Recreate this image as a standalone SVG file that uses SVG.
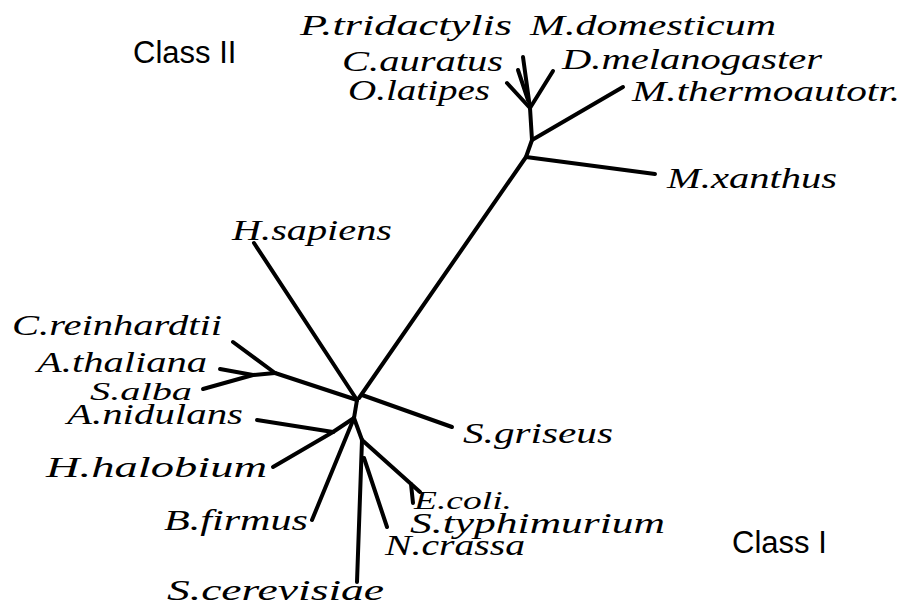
<svg xmlns="http://www.w3.org/2000/svg" width="903" height="611" viewBox="0 0 903 611">
<style>
.lbl{font-family:"Liberation Serif","DejaVu Serif",serif;font-style:italic;font-size:29px;fill:#000}
.sm{font-size:26px}
.cls{font-family:"Liberation Sans",Arial,sans-serif;font-size:31px;fill:#000}
.br{fill:none;stroke:#000;stroke-width:4;stroke-linecap:round;stroke-linejoin:round}
</style>
<rect width="903" height="611" fill="#fff"/>
<g id="connectors">
<polyline class="br" points="359,398 526,157 532,140 530,108"/>
<line class="br" x1="526" y1="157" x2="655" y2="174"/>
<line class="br" x1="532" y1="140" x2="623" y2="87"/>
<line class="br" x1="530" y1="108" x2="523" y2="57"/>
<line class="br" x1="528" y1="100" x2="518" y2="70"/>
<line class="br" x1="530" y1="108" x2="507" y2="83"/>
<line class="br" x1="530" y1="108" x2="553" y2="71"/>
<line class="br" x1="357" y1="400" x2="254" y2="243"/>
<line class="br" x1="362" y1="395" x2="452" y2="427"/>
<line class="br" x1="357" y1="400" x2="275" y2="373"/>
<line class="br" x1="275" y1="373" x2="233" y2="342"/>
<line class="br" x1="275" y1="373" x2="253" y2="375"/>
<line class="br" x1="253" y1="375" x2="220" y2="369"/>
<line class="br" x1="253" y1="375" x2="203" y2="389"/>
<line class="br" x1="357" y1="400" x2="354" y2="418"/>
<line class="br" x1="354" y1="418" x2="333" y2="432"/>
<line class="br" x1="333" y1="432" x2="257" y2="420"/>
<line class="br" x1="333" y1="432" x2="273" y2="467"/>
<line class="br" x1="354" y1="418" x2="312" y2="520"/>
<line class="br" x1="354" y1="418" x2="362" y2="440"/>
<line class="br" x1="362" y1="440" x2="420" y2="492"/>
<line class="br" x1="411" y1="484" x2="413" y2="503"/>
<line class="br" x1="362" y1="440" x2="357" y2="582"/>
<line class="br" x1="364" y1="458" x2="387" y2="527"/>
</g>
<g id="P_tridactylis"><text class="lbl" x="300" y="35" textLength="212" lengthAdjust="spacingAndGlyphs">P.tridactylis</text></g>
<g id="M_domesticum"><text class="lbl" x="530" y="35" textLength="246" lengthAdjust="spacingAndGlyphs">M.domesticum</text></g>
<g id="C_auratus"><text class="lbl" x="342" y="71" textLength="161" lengthAdjust="spacingAndGlyphs">C.auratus</text></g>
<g id="D_melanogaster"><text class="lbl" x="562" y="69" textLength="260" lengthAdjust="spacingAndGlyphs">D.melanogaster</text></g>
<g id="O_latipes"><text class="lbl" x="348" y="100" textLength="142" lengthAdjust="spacingAndGlyphs">O.latipes</text></g>
<g id="M_thermoautotr"><text class="lbl" x="632" y="101" textLength="268" lengthAdjust="spacingAndGlyphs">M.thermoautotr.</text></g>
<g id="M_xanthus"><text class="lbl" x="667" y="188" textLength="170" lengthAdjust="spacingAndGlyphs">M.xanthus</text></g>
<g id="H_sapiens"><text class="lbl" x="232" y="240" textLength="160" lengthAdjust="spacingAndGlyphs">H.sapiens</text></g>
<g id="C_reinhardtii"><text class="lbl" x="12" y="335" textLength="210" lengthAdjust="spacingAndGlyphs">C.reinhardtii</text></g>
<g id="A_thaliana"><text class="lbl" x="37" y="372" textLength="170" lengthAdjust="spacingAndGlyphs">A.thaliana</text></g>
<g id="S_alba"><text class="lbl sm" x="90" y="400" textLength="102" lengthAdjust="spacingAndGlyphs">S.alba</text></g>
<g id="A_nidulans"><text class="lbl" x="67" y="424" textLength="176" lengthAdjust="spacingAndGlyphs">A.nidulans</text></g>
<g id="S_griseus"><text class="lbl" x="463" y="443" textLength="150" lengthAdjust="spacingAndGlyphs">S.griseus</text></g>
<g id="H_halobium"><text class="lbl" x="46" y="477" textLength="221" lengthAdjust="spacingAndGlyphs">H.halobium</text></g>
<g id="E_coli"><text class="lbl sm" x="414" y="509" textLength="98" lengthAdjust="spacingAndGlyphs">E.coli.</text></g>
<g id="B_firmus"><text class="lbl" x="164" y="530" textLength="144" lengthAdjust="spacingAndGlyphs">B.firmus</text></g>
<g id="S_typhimurium"><text class="lbl" x="410" y="533" textLength="255" lengthAdjust="spacingAndGlyphs">S.typhimurium</text></g>
<g id="N_crassa"><text class="lbl" x="385" y="555" textLength="140" lengthAdjust="spacingAndGlyphs">N.crassa</text></g>
<g id="S_cerevisiae"><text class="lbl" x="167" y="600" textLength="217" lengthAdjust="spacingAndGlyphs">S.cerevisiae</text></g>
<g id="ClassII"><text class="cls" x="133" y="63">Class II</text></g>
<g id="ClassI"><text class="cls" x="732" y="553">Class I</text></g>
</svg>
